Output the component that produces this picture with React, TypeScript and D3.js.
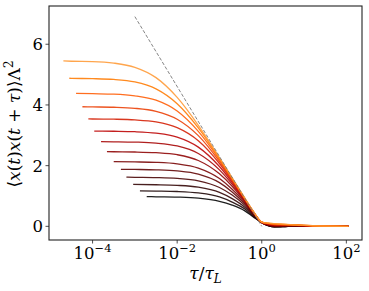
import React from 'react';
import { scaleLog, scaleLinear, line, curveMonotoneX } from 'd3';

// exponents of tau/tau_L where the curves are sampled
const logTau = [-4.5, -4, -3.5, -3, -2.5, -2, -1.5, -1, -0.7, -0.4, -0.2, 0, 0.15, 0.3, 0.5, 0.8, 1.2, 2.05];

// first point of each curve (exponent) and its plateau value
const startExp = [-4.69, -4.55, -4.39, -4.24, -4.1, -3.96, -3.8, -3.66, -3.5, -3.33, -3.2, -3.04, -2.88, -2.72];
const plateau = [5.45, 4.88, 4.38, 3.94, 3.54, 3.14, 2.79, 2.46, 2.13, 1.88, 1.62, 1.38, 1.17, 0.98];

// values on the logTau grid, top curve first
const c01 = [5.44, 5.43, 5.38, 5.24, 4.9, 4.25, 3.33, 2.26, 1.6, 0.93, 0.49, 0.14, 0.11, 0.09, 0.07, 0.05, 0.02, 0];
const c02 = [4.875, 4.866, 4.84, 4.757, 4.53, 4.04, 3.245, 2.236, 1.58, 0.92, 0.49, 0.14, 0.1, 0.08, 0.065, 0.045, 0.02, 0];
const c03 = [null, 4.37, 4.355, 4.3, 4.157, 3.8, 3.13, 2.196, 1.563, 0.91, 0.49, 0.14, 0.095, 0.07, 0.06, 0.045, 0.02, 0];
const c04 = [null, 3.935, 3.924, 3.89, 3.79, 3.53, 2.99, 2.14, 1.537, 0.9, 0.48, 0.135, 0.09, 0.06, 0.05, 0.04, 0.02, 0];
const c05 = [null, 3.537, 3.53, 3.508, 3.44, 3.25, 2.82, 2.07, 1.5, 0.89, 0.47, 0.135, 0.08, 0.05, 0.045, 0.035, 0.015, 0];
const c06 = [null, null, 3.133, 3.118, 3.07, 2.94, 2.61, 1.97, 1.45, 0.87, 0.47, 0.13, 0.07, 0.04, 0.035, 0.03, 0.015, 0];
const c07 = [null, null, 2.786, 2.775, 2.743, 2.648, 2.4, 1.86, 1.39, 0.85, 0.46, 0.13, 0.065, 0.03, 0.03, 0.03, 0.015, 0];
const c08 = [null, null, 2.457, 2.45, 2.427, 2.36, 2.17, 1.73, 1.32, 0.82, 0.45, 0.13, 0.055, 0.02, 0.02, 0.025, 0.015, 0];
const c09 = [null, null, null, 2.122, 2.107, 2.058, 1.92, 1.575, 1.22, 0.78, 0.43, 0.13, 0.05, 0.01, 0.015, 0.02, 0.015, 0];
const c10 = [null, null, null, 1.875, 1.863, 1.826, 1.72, 1.44, 1.134, 0.74, 0.415, 0.125, 0.045, 0, 0.01, 0.02, 0.01, 0];
const c11 = [null, null, null, 1.616, 1.607, 1.58, 1.5, 1.28, 1.03, 0.69, 0.39, 0.125, 0.035, -0.005, 0, 0.015, 0.01, 0];
const c12 = [null, null, null, null, 1.371, 1.351, 1.29, 1.12, 0.914, 0.63, 0.36, 0.125, 0.03, -0.01, -0.005, 0.01, 0.01, 0];
const c13 = [null, null, null, null, 1.163, 1.148, 1.1, 0.97, 0.8, 0.57, 0.33, 0.12, 0.025, -0.015, -0.01, 0.01, 0.01, 0];
const c14 = [null, null, null, null, 0.974, 0.963, 0.929, 0.826, 0.7, 0.51, 0.31, 0.12, 0.02, -0.02, -0.01, 0.01, 0.01, 0];
const curves = [c01, c02, c03, c04, c05, c06, c07, c08, c09, c10, c11, c12, c13, c14];

// dashed guide line
const guideExp = [-3, 0];
const guideVal = [6.91, 0];

const yTicks = [0, 2, 4, 6];
const xTickExp = [-4, -2, 0, 2];

const W = 369;
const H = 291;
const plot = { left: 49, right: 362, top: 6, bottom: 240 };

// matplotlib gist_heat
const gistHeat = (t: number) => {
  const r = Math.min(1, 1.5 * t);
  const g = Math.max(0, Math.min(1, 2 * t - 1));
  const b = Math.max(0, Math.min(1, 4 * t - 3));
  return `rgb(${Math.round(r * 255)},${Math.round(g * 255)},${Math.round(b * 255)})`;
};

const font = { fontFamily: "'DejaVu Serif', 'Liberation Serif', serif" };

export default function App() {
  const x = scaleLog().domain([Math.pow(10, -5.03), Math.pow(10, 2.37)]).range([plot.left, plot.right]);
  const y = scaleLinear().domain([-0.45, 7.26]).range([plot.bottom, plot.top]);

  const path = line<[number, number]>()
    .x(d => x(Math.pow(10, d[0])))
    .y(d => y(d[1]))
    .curve(curveMonotoneX);

  const guide = line<[number, number]>()
    .x(d => x(Math.pow(10, d[0])))
    .y(d => y(d[1]));

  const n = curves.length;
  const series = curves.map((vals, i) => {
    const pts: [number, number][] = [[startExp[i], plateau[i]]];
    vals.forEach((v, k) => {
      if (v !== null && logTau[k] > startExp[i]) pts.push([logTau[k], v as number]);
    });
    return { pts, color: gistHeat((0.8 * (n - 1 - i)) / (n - 1)) };
  });

  return (
    <svg width={W} height={H} style={{ position: 'absolute', left: 0, top: 0, background: '#fff', ...font }}>
      <g>
        {series
          .slice()
          .reverse()
          .map((s, i) => (
            <path key={i} d={path(s.pts) || ''} fill="none" stroke={s.color} strokeOpacity={0.88} strokeWidth={1.3} />
          ))}
        <path
          d={guide(guideExp.map((e, k) => [e, guideVal[k]] as [number, number])) || ''}
          fill="none"
          stroke="#777"
          strokeWidth={0.9}
          strokeDasharray="3.5,1.8"
        />
      </g>
      <rect
        x={plot.left}
        y={plot.top}
        width={plot.right - plot.left}
        height={plot.bottom - plot.top}
        fill="none"
        stroke="#222"
        strokeWidth={1.1}
      />
      {yTicks.map(t => (
        <g key={t}>
          <line x1={plot.left - 3.5} x2={plot.left} y1={y(t)} y2={y(t)} stroke="#222" strokeWidth={0.8} />
          <text x={plot.left - 6} y={y(t)} dy="0.36em" textAnchor="end" style={{ ...font, fontSize: 16.5, fontWeight: 500 }} fill="#000">
            {t}
          </text>
        </g>
      ))}
      {xTickExp.map(e => (
        <g key={e}>
          <line x1={x(Math.pow(10, e))} x2={x(Math.pow(10, e))} y1={plot.bottom} y2={plot.bottom + 3.5} stroke="#222" strokeWidth={0.8} />
          <text x={x(Math.pow(10, e))} y={259} textAnchor="middle" style={{ ...font, fontSize: 16.5, fontWeight: 500 }} fill="#000">
            10
            <tspan dy={-7} style={{ fontSize: 11.5 }}>
              {e < 0 ? `\u2212${-e}` : `${e}`}
            </tspan>
          </text>
        </g>
      ))}
      <text x={(plot.left + plot.right) / 2} y={279} textAnchor="middle" style={{ ...font, fontSize: 17 }} fill="#000">
        <tspan fontStyle="italic">τ</tspan>
        <tspan>/</tspan>
        <tspan fontStyle="italic">τ</tspan>
        <tspan fontStyle="italic" style={{ fontSize: 12 }} dy={3.5}>L</tspan>
      </text>
      <text transform={`translate(20,124) rotate(-90)`} textAnchor="middle" style={{ ...font, fontSize: 17 }} fill="#000">
        <tspan>⟨</tspan>
        <tspan fontStyle="italic">x</tspan>
        <tspan>(</tspan>
        <tspan fontStyle="italic">t</tspan>
        <tspan>)</tspan>
        <tspan fontStyle="italic">x</tspan>
        <tspan>(</tspan>
        <tspan fontStyle="italic">t</tspan>
        <tspan> + </tspan>
        <tspan fontStyle="italic">τ</tspan>
        <tspan>)⟩Λ</tspan>
        <tspan style={{ fontSize: 12 }} dy={-7}>2</tspan>
      </text>
    </svg>
  );
}
